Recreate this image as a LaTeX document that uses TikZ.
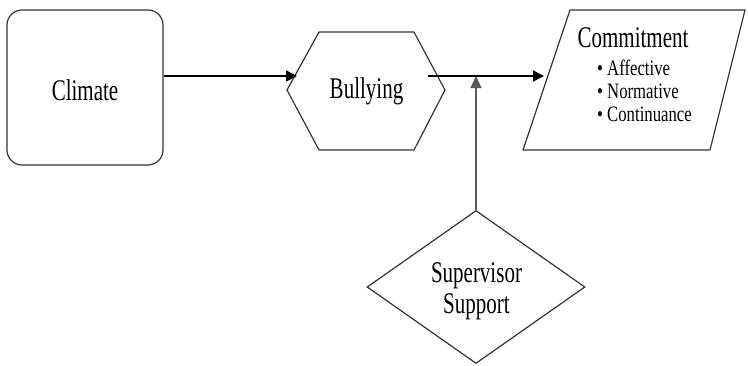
\documentclass[tikz,border=0pt]{standalone}
\usepackage{fontspec}
\setmainfont{Liberation Serif}[FakeStretch=0.70]
\newfontfamily\listfont{Liberation Serif}[FakeStretch=0.76]
\usetikzlibrary{arrows.meta,shapes.geometric}
\begin{document}
\begin{tikzpicture}[x=1pt,y=-1pt,
  shapeline/.style={draw=black!80,line width=1.2pt},
  label/.style={font=\fontsize{30}{31}\selectfont,inner sep=0pt,align=center},
  flow/.style={draw=black,line width=1.6pt,-{Triangle[length=11pt,width=11pt]}},
  support/.style={draw=black!65,line width=1.3pt,-{Triangle[length=12pt,width=11pt]}}]
\useasboundingbox (0,0) rectangle (748,365);

% Climate: rounded box
\node[shapeline,rounded corners=15pt,minimum width=156pt,minimum height=155pt] (climate) at (85,87.5) {};
\node[label,anchor=base] (climatetxt) at (85,100) {Climate};

% Bullying: hexagon outline
\coordinate (h1) at (319,32);
\coordinate (h2) at (414,32);
\coordinate (h3) at (445,90);
\coordinate (h4) at (414,150);
\coordinate (h5) at (319,150);
\coordinate (h6) at (287,90);
\draw[shapeline,line join=round] (h1) -- (h2) -- (h3) -- (h4) -- (h5) -- (h6) -- cycle;
\node[label,anchor=base] (bullying) at (366.5,98) {Bullying};
\coordinate (bulin) at (297,76);
\coordinate (bulout) at (428,76);

% Commitment: slanted box
\coordinate (c1) at (570,10);
\coordinate (c2) at (745,10);
\coordinate (c3) at (710,150);
\coordinate (c4) at (523,150);
\draw[shapeline,line join=round] (c1) -- (c2) -- (c3) -- (c4) -- cycle;
\node[label,anchor=base] (commitment) at (633,47) {Commitment};
% multi-line nodes: the base anchor sits on the last line
\node[inner sep=0pt,anchor=base west,align=left,
      font=\listfont\fontsize{22}{23.2}\selectfont] (dims) at (597,121.7)
  {\textbullet\ Affective\\ \textbullet\ Normative\\ \textbullet\ Continuance};
\coordinate (comin) at (544,76);

% Supervisor Support: diamond
\node[shapeline,diamond,minimum width=218pt,minimum height=153pt,inner sep=0pt] (supervisor) at (476,287) {};
\node[label,anchor=base] (supervisortxt) at (476.5,313) {Supervisor\\Support};
\coordinate (join) at (supervisor.north |- bulout);

% Connectors
\draw[flow] (climate.east |- bulin) -- (bulin);
\draw[flow] (bulout) -- (comin);
\draw[support] (supervisor.north) -- (join);
\end{tikzpicture}
\end{document}
